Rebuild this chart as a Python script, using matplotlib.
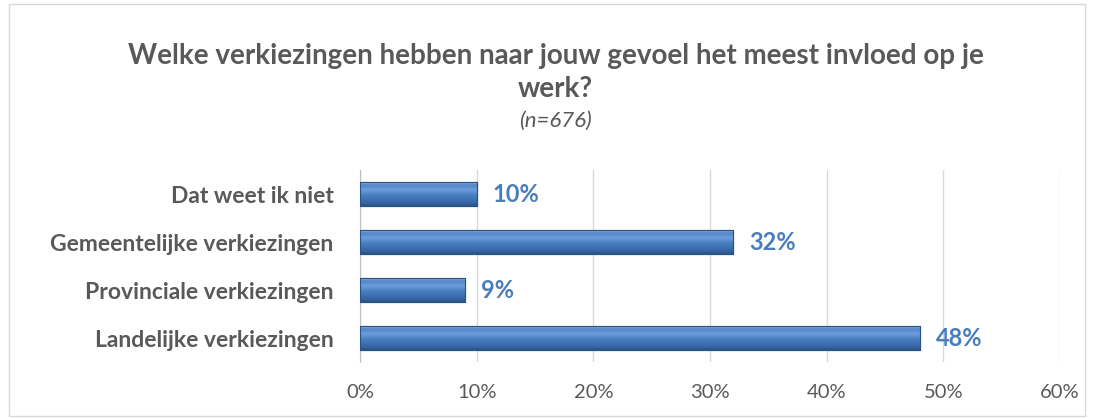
import matplotlib
matplotlib.use("Agg")
import matplotlib.pyplot as plt
import numpy as np
from matplotlib.patches import Rectangle
from matplotlib.colors import LinearSegmentedColormap

categories = ["Landelijke verkiezingen", "Provinciale verkiezingen",
              "Gemeentelijke verkiezingen", "Dat weet ik niet"]
values = [48, 9, 32, 10]
labels = ["48%", "9%", "32%", "10%"]
xticks = [0, 10, 20, 30, 40, 50, 60]
xticklabels = ["0%", "10%", "20%", "30%", "40%", "50%", "60%"]

plt.rcParams['font.family'] = ['Lato', 'DejaVu Sans']
grey = '#595959'
blue = '#4A7EBB'

fig = plt.figure(figsize=(10.94, 4.18), dpi=100)
fig.patches.append(Rectangle((0.008, 0.005), 0.984, 0.985, transform=fig.transFigure,
                             fill=False, edgecolor='#D9D9D9', linewidth=1))
ax = fig.add_axes([0.329, 0.134, 0.640, 0.459])

y = list(range(len(categories)))
h = 0.5
bars = ax.barh(y, values, height=h, color='#4A7EC0', edgecolor='#2A5286',
               linewidth=0.8, zorder=3)

cmap = LinearSegmentedColormap.from_list(
    'bevel', [(0.0, '#2A5488'), (0.12, '#3565A3'), (0.45, '#4A7EC0'),
              (0.68, '#6D9DDA'), (0.88, '#5286C8'), (1.0, '#8CB3E3')])
grad = np.linspace(0, 1, 64).reshape(-1, 1)
for b in bars:
    x0, y0 = b.get_x(), b.get_y()
    im = ax.imshow(grad, cmap=cmap, origin='lower', aspect='auto',
                   extent=(x0, x0 + b.get_width(), y0, y0 + b.get_height()),
                   zorder=3.5, interpolation='bilinear')
    im.set_clip_path(b)
    ax.add_patch(Rectangle((x0, y0), b.get_width(), b.get_height(), fill=False,
                           edgecolor='#2A5286', linewidth=0.8, zorder=4))

for yi, v, lab in zip(y, values, labels):
    ax.text(v + 1.35, yi, lab, va='center', ha='left', fontsize=17,
            fontweight='bold', color=blue)

ax.set_xlim(0, 60)
ax.set_ylim(-0.5, 3.5)
ax.set_xticks(xticks)
ax.set_xticklabels(xticklabels, fontsize=14.5, color=grey)
ax.set_yticks(y)
ax.set_yticklabels(categories, fontsize=16.5, fontweight='bold', color=grey)
ax.tick_params(axis='both', length=0)
ax.tick_params(axis='x', pad=16)
ax.tick_params(axis='y', pad=19)
ax.grid(axis='x', color='#D9D9D9', linewidth=1, zorder=0)
for s in ['top', 'right', 'bottom']:
    ax.spines[s].set_visible(False)
ax.spines['left'].set_color('#BFBFBF')

fig.text(0.508, 0.865, "Welke verkiezingen hebben naar jouw gevoel het meest invloed op je",
         ha='center', va='center', fontsize=20, fontweight='bold', color=grey)
fig.text(0.508, 0.787, "werk?", ha='center', va='center', fontsize=20,
         fontweight='bold', color=grey)
fig.text(0.508, 0.71, "(n=676)", ha='center', va='center', fontsize=16,
         fontstyle='italic', color=grey)

fig.savefig("out.png", dpi=100)
